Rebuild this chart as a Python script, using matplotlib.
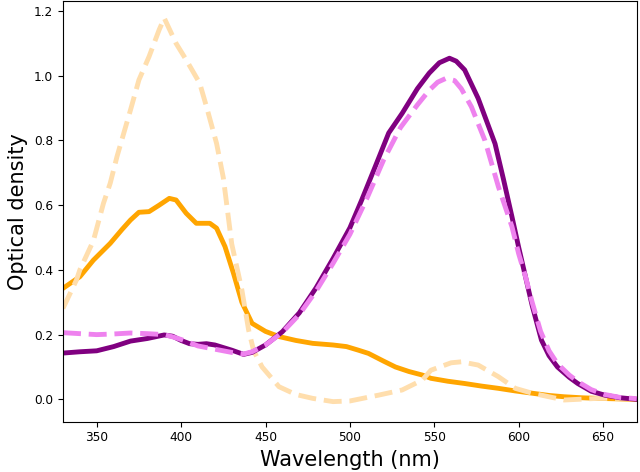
import matplotlib
matplotlib.use('Agg')
import matplotlib.pyplot as plt
import numpy as np

# purple solid
wl_p = [330, 340, 350, 360, 370, 380, 390, 395, 400, 405, 410, 415, 420, 425, 430, 437, 442,
        450, 460, 470, 480, 490, 500, 507, 515, 523, 531, 540, 547, 553, 559, 563, 568, 576,
        586, 591, 596, 600, 604, 608, 613.5, 618, 623, 630, 635, 643, 651, 660, 670]
od_p = [0.143, 0.147, 0.150, 0.163, 0.180, 0.188, 0.199, 0.195, 0.182, 0.172, 0.170, 0.172,
        0.168, 0.160, 0.152, 0.139, 0.145, 0.168, 0.209, 0.267, 0.345, 0.435, 0.530, 0.616,
        0.719, 0.823, 0.884, 0.960, 1.008, 1.040, 1.054, 1.045, 1.018, 0.930, 0.790, 0.680,
        0.565, 0.470, 0.380, 0.290, 0.183, 0.135, 0.100, 0.068, 0.049, 0.025, 0.013, 0.005, 0.0]

# violet dashed
wl_v = [330, 340, 350, 360, 370, 380, 390, 395, 400, 405, 410, 420, 430, 437, 442, 450, 460,
        470, 480, 490, 500, 510, 520, 530, 540, 547, 552, 557, 562, 566, 572, 580, 588, 596,
        600, 604, 608, 613, 618, 623, 630, 635, 643, 651, 660, 670]
od_v = [0.206, 0.203, 0.200, 0.202, 0.205, 0.203, 0.200, 0.193, 0.185, 0.175, 0.165, 0.155,
        0.145, 0.140, 0.147, 0.168, 0.207, 0.262, 0.335, 0.420, 0.510, 0.620, 0.740, 0.840,
        0.910, 0.955, 0.980, 0.992, 0.985, 0.960, 0.904, 0.800, 0.657, 0.534, 0.450, 0.380,
        0.300, 0.210, 0.150, 0.110, 0.075, 0.055, 0.030, 0.015, 0.006, 0.002]

# orange solid
wl_o = [330, 340, 348, 358, 365, 370, 375, 381, 387, 393, 397, 403, 409, 417, 421, 426, 431,
        436, 442, 450, 458, 468, 478, 490, 498, 505, 511, 520, 527, 535, 543, 548, 558, 568,
        578, 588, 598, 608, 618, 627, 637, 647, 670]
od_o = [0.343, 0.379, 0.430, 0.482, 0.525, 0.554, 0.578, 0.580, 0.600, 0.621, 0.616, 0.575,
        0.544, 0.544, 0.529, 0.472, 0.390, 0.300, 0.235, 0.210, 0.194, 0.182, 0.173, 0.168,
        0.163, 0.152, 0.142, 0.118, 0.100, 0.086, 0.075, 0.065, 0.056, 0.049, 0.041, 0.034,
        0.026, 0.019, 0.012, 0.008, 0.005, 0.003, 0.0]

# light orange dashed
wl_l = [330, 338, 340, 348, 354, 358, 362, 370, 375, 381, 387, 390, 397, 403, 411, 415, 421,
        425, 430, 436, 440, 443, 448, 458, 468, 478, 490, 500, 517, 531, 543, 548, 560, 566,
        576, 588, 598, 608, 627, 647, 670]
od_l = [0.281, 0.369, 0.400, 0.490, 0.606, 0.668, 0.750, 0.894, 0.987, 1.059, 1.142, 1.178,
        1.100, 1.049, 0.977, 0.905, 0.791, 0.685, 0.480, 0.338, 0.214, 0.150, 0.100, 0.039,
        0.015, 0.003, -0.007, -0.005, 0.013, 0.029, 0.060, 0.090, 0.113, 0.116, 0.106, 0.070,
        0.034, 0.019, -0.002, 0.003, 0.003]

fig = plt.figure(figsize=(6.4, 4.72), dpi=100)
ax = fig.add_axes([0.0984, 0.1066, 0.8966, 0.8914])

ax.plot(wl_o, od_o, color='orange', lw=3.5)
ax.plot(wl_l, od_l, color='navajowhite', lw=3.5, ls='--')
ax.plot(wl_p, od_p, color='purple', lw=3.5)
ax.plot(wl_v, od_v, color='violet', lw=3.5, ls='--')

ax.set_xlim(330, 670)
ax.set_ylim(-0.069, 1.231)
ax.tick_params(labelsize=8.7)
ax.set_xlabel('Wavelength (nm)', fontsize=15)
ax.set_ylabel('Optical density', fontsize=15)

fig.savefig('out.png', dpi=100)
